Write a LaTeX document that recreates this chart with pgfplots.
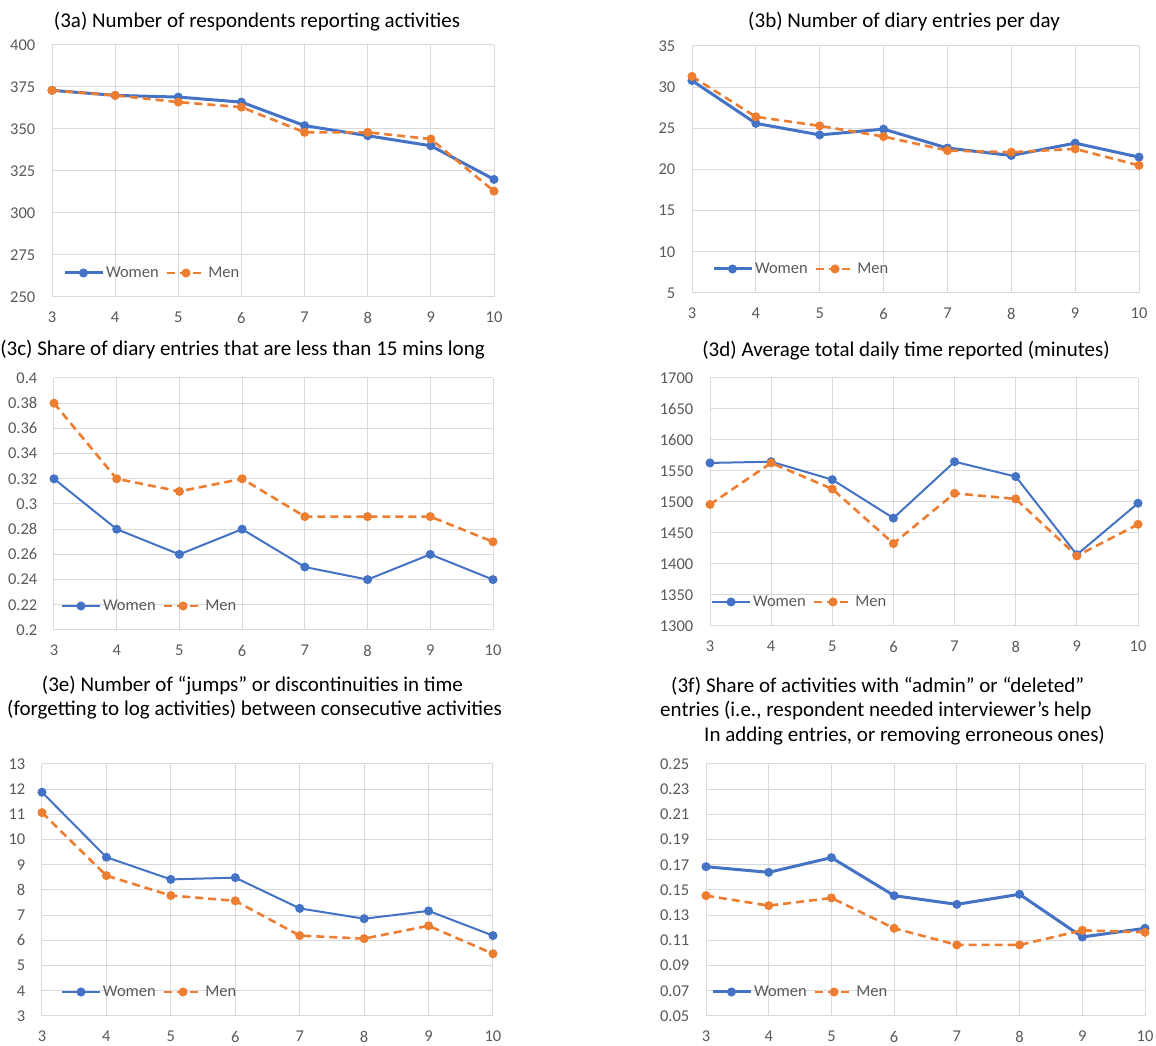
\documentclass[border=0pt]{standalone}
\usepackage{fontspec}
\setmainfont{Carlito}
\usepackage{pgfplots}
\pgfplotsset{compat=1.18}
\definecolor{wblue}{HTML}{4472C4}
\definecolor{morange}{HTML}{ED7D31}
\definecolor{gridc}{HTML}{D9D9D9}
\definecolor{tickgray}{HTML}{595959}
\newcommand{\tickfont}{\fontsize{16.5}{18}\selectfont}
\newcommand{\titlefont}{\fontsize{21}{24}\selectfont}
\pgfplotsset{
  panel/.style={
    scale only axis, anchor=south west,
    xmin=3, xmax=10, xtick={3,4,5,6,7,8,9,10},
    xticklabels={3,4,5,6,7,8,9,10},
    grid=major, major grid style={draw=gridc, line width=1pt},
    axis line style={draw=none},
    major tick length=0pt,
    /pgf/number format/assume math mode=true,
    tick label style={font=\tickfont, text=tickgray, inner sep=0pt},
    xticklabel style={anchor=north, yshift=-14.7pt},
    yticklabel style={anchor=east, xshift=-16.5pt},
    legend columns=2,
    legend style={draw=none, fill=none, inner sep=0pt, outer sep=0pt,
      font=\tickfont, text=tickgray, anchor=west,
      at={(rel axis cs:0,0)}, yshift=24pt,
      nodes={inner sep=2pt},
      /tikz/every even column/.append style={column sep=5pt}},
    legend cell align=left,
    legend image code/.code={\draw[mark repeat=2,mark phase=2,##1] plot coordinates {(0pt,0pt) (19pt,0pt) (38pt,0pt)};},
    clip=false,
  },
  women/.style={color=wblue, line width=#1, mark=*, mark size=4pt, mark options={solid, fill=wblue, line width=1pt}},
  men/.style={color=morange, line width=2.6pt, dash pattern=on 8pt off 5pt, mark=*, mark size=4pt, mark options={solid, fill=morange, line width=1pt}},
}
\begin{document}
\begin{tikzpicture}
\path (0pt,0pt) rectangle (1156pt,1046pt);

% (3a)
\begin{axis}[panel, at={(52pt,749pt)}, width=442pt, height=252pt,
  ymin=250, ymax=400, ytick={250,275,...,400},
  yticklabels={250,275,300,325,350,375,400},
  legend style={xshift=11pt}]
\addplot[women=3pt] coordinates {(3,373) (4,370) (5,369) (6,366) (7,352) (8,346) (9,340) (10,320)};
\addplot[men] coordinates {(3,373) (4,370) (5,366) (6,363) (7,348) (8,348) (9,344) (10,313)};
\legend{Women,Men}
\end{axis}

% (3b)
\begin{axis}[panel, at={(692pt,753pt)}, width=447pt, height=247pt,
  ymin=5, ymax=35, ytick={5,10,...,35},
  yticklabels={5,10,15,20,25,30,35},
  legend style={xshift=20pt}]
\addplot[women=3pt] coordinates {(3,30.8) (4,25.6) (5,24.2) (6,24.9) (7,22.6) (8,21.7) (9,23.2) (10,21.5)};
\addplot[men] coordinates {(3,31.3) (4,26.4) (5,25.3) (6,24.0) (7,22.3) (8,22.1) (9,22.5) (10,20.5)};
\legend{Women,Men}
\end{axis}

% (3c)
\begin{axis}[panel, at={(54pt,416pt)}, width=439pt, height=252pt,
  ymin=0.2, ymax=0.4, ytick={0.2,0.22,0.24,0.26,0.28,0.3,0.32,0.34,0.36,0.38,0.4},
  yticklabels={0.2,0.22,0.24,0.26,0.28,0.3,0.32,0.34,0.36,0.38,0.4},
  legend style={xshift=7pt}]
\addplot[women=2pt] coordinates {(3,0.32) (4,0.28) (5,0.26) (6,0.28) (7,0.25) (8,0.24) (9,0.26) (10,0.24)};
\addplot[men] coordinates {(3,0.38) (4,0.32) (5,0.31) (6,0.32) (7,0.29) (8,0.29) (9,0.29) (10,0.27)};
\legend{Women,Men}
\end{axis}

% (3d)
\begin{axis}[panel, at={(710pt,420pt)}, width=428pt, height=248pt,
  ymin=1300, ymax=1700, ytick={1300,1350,...,1700},
  yticklabels={1300,1350,1400,1450,1500,1550,1600,1650,1700},
  legend style={xshift=1pt}]
\addplot[women=2pt] coordinates {(3,1563) (4,1565) (5,1536) (6,1474) (7,1565) (8,1541) (9,1415) (10,1498)};
\addplot[men] coordinates {(3,1496) (4,1563) (5,1521) (6,1433) (7,1514) (8,1505) (9,1413) (10,1464)};
\legend{Women,Men}
\end{axis}

% (3e)
\begin{axis}[panel, at={(42pt,30pt)}, width=451pt, height=252pt,
  ymin=3, ymax=13, ytick={3,4,...,13},
  yticklabels={3,4,5,6,7,8,9,10,11,12,13},
  legend style={xshift=19pt}]
\addplot[women=2pt] coordinates {(3,11.88) (4,9.30) (5,8.42) (6,8.49) (7,7.27) (8,6.86) (9,7.17) (10,6.19)};
\addplot[men] coordinates {(3,11.07) (4,8.57) (5,7.78) (6,7.57) (7,6.19) (8,6.07) (9,6.58) (10,5.47)};
\legend{Women,Men}
\end{axis}

% (3f)
\begin{axis}[panel, at={(706pt,30pt)}, width=439pt, height=252pt,
  ymin=0.05, ymax=0.25, ytick={0.05,0.07,0.09,0.11,0.13,0.15,0.17,0.19,0.21,0.23,0.25},
  yticklabels={0.05,0.07,0.09,0.11,0.13,0.15,0.17,0.19,0.21,0.23,0.25},
  legend style={xshift=5pt}]
\addplot[women=3pt] coordinates {(3,0.1685) (4,0.164) (5,0.1757) (6,0.1455) (7,0.1386) (8,0.1466) (9,0.1127) (10,0.1196)};
\addplot[men] coordinates {(3,0.1455) (4,0.1376) (5,0.1437) (6,0.1196) (7,0.1064) (8,0.1064) (9,0.118) (10,0.1164)};
\legend{Women,Men}
\end{axis}

% titles
\node[anchor=base, inner sep=0pt, font=\titlefont] at (257pt,1018pt) {(3a) Number of respondents reporting activities};
\node[anchor=base, inner sep=0pt, font=\titlefont] at (904pt,1018pt) {(3b) Number of diary entries per day};
\node[anchor=base, inner sep=0pt, font=\titlefont] at (242.5pt,690pt) {(3c) Share of diary entries that are less than 15 mins long};
\node[anchor=base, inner sep=0pt, font=\titlefont] at (906pt,689pt) {(3d) Average total daily time reported (minutes)};
\node[anchor=base, inner sep=0pt, font=\titlefont] at (252.5pt,354pt) {(3e) Number of “jumps” or discontinuities in time};
\node[anchor=base, inner sep=0pt, font=\titlefont] at (254.5pt,330pt) {(forgetting to log activities) between consecutive activities};
\node[anchor=base west, inner sep=0pt, font=\titlefont] at (671pt,353pt) {(3f) Share of activities with “admin” or “deleted”};
\node[anchor=base west, inner sep=0pt, font=\titlefont] at (660pt,329pt) {entries (i.e., respondent needed interviewer’s help};
\node[anchor=base west, inner sep=0pt, font=\titlefont] at (704pt,304pt) {In adding entries, or removing erroneous ones)};
\end{tikzpicture}
\end{document}
